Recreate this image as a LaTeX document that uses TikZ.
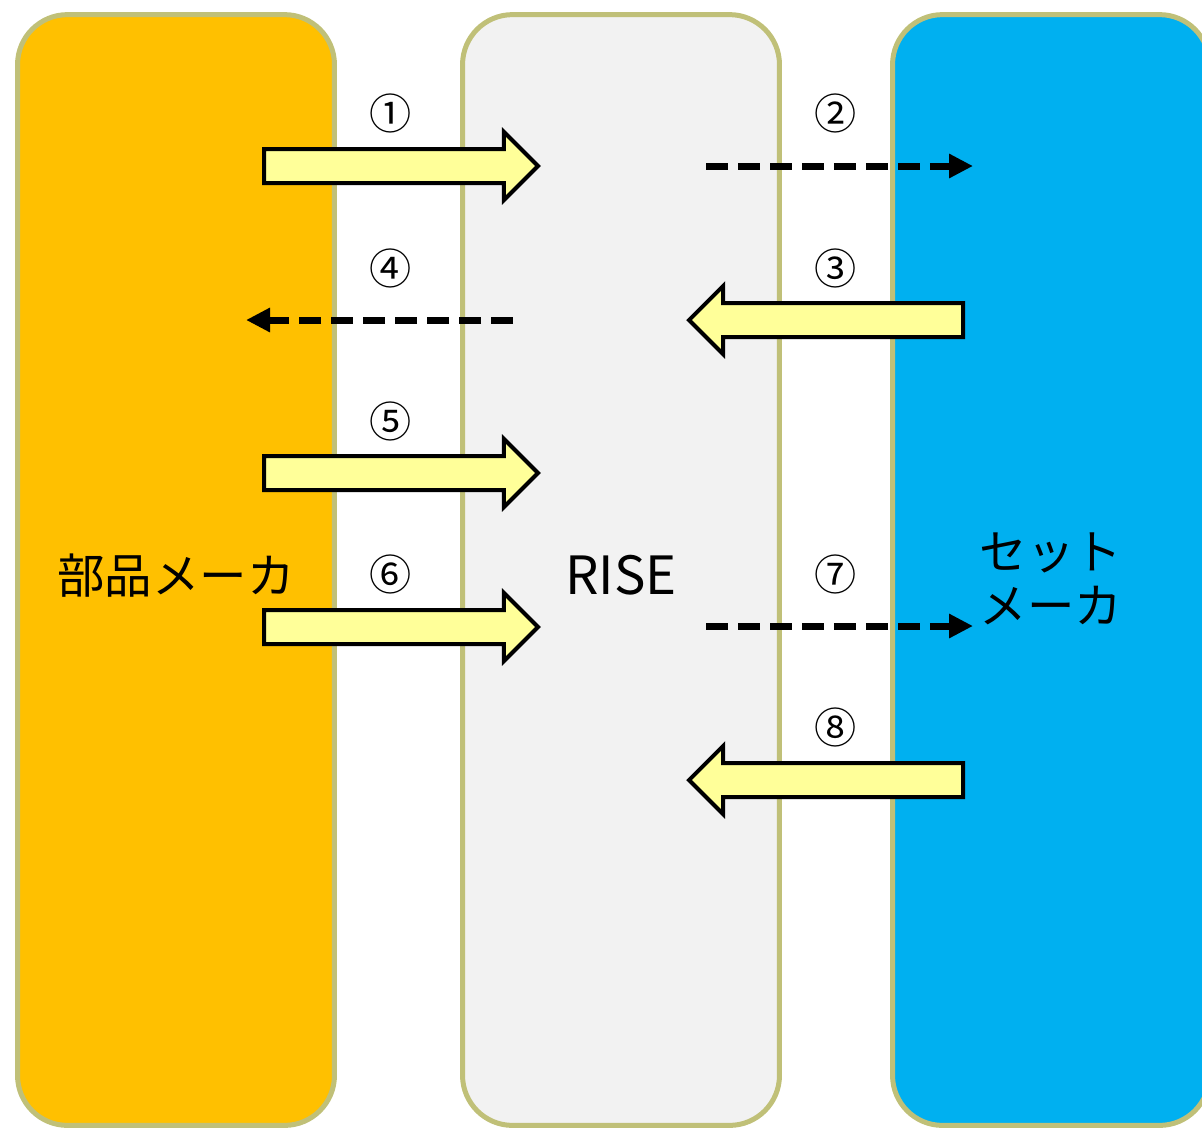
\documentclass[tikz,border=0pt]{standalone}
\usepackage{fontspec}
\setmainfont{Noto Sans CJK JP}
\usetikzlibrary{shapes.arrows,arrows.meta}
\definecolor{partsorange}{HTML}{FFC000}
\definecolor{risegray}{HTML}{F2F2F2}
\definecolor{setblue}{HTML}{00B0F0}
\definecolor{boxline}{HTML}{C0C078}
\definecolor{arrowyellow}{HTML}{FFFF99}
\begin{document}
\begin{tikzpicture}[x=0.02cm,y=-0.02cm,
  lane/.style={rectangle,draw=boxline,line width=0.1cm,rounded corners=1cm,
    minimum width=6.34cm,minimum height=22.22cm,font=\fontsize{27}{31}\selectfont,align=center},
  bigarrow/.style={single arrow,draw=black,fill=arrowyellow,line width=0.08cm,
    inner xsep=0pt,inner ysep=0.3cm,minimum height=5.48cm,
    single arrow head extend=0.34cm,single arrow tip angle=90,anchor=tail},
  dasharrow/.style={line width=0.14cm,dash pattern=on 0.44cm off 0.2cm,
    -{Triangle[length=0.48cm,width=0.46cm]}},
  num/.style={font=\fontsize{24}{28}\selectfont}]
  \useasboundingbox (0,0) rectangle (1202,1130);

  \node[lane,fill=partsorange,text height=30pt,text depth=3pt] (parts) at (176,570) {部品メーカ};
  \node[lane,fill=risegray,font=\fontsize{30}{34}\selectfont,text height=28.2pt,text depth=0pt] (rise) at (621,570) {RISE};
  \node[lane,fill=setblue] (setmaker) at (1051,570) {\rule{0pt}{30.8pt}セット\\メーカ};

  \node[bigarrow] (a1) at (262,166) {};
  \node[bigarrow,shape border rotate=180] (a3) at (965,320) {};
  \node[bigarrow] (a5) at (262,473) {};
  \node[bigarrow] (a6) at (262,627) {};
  \node[bigarrow,shape border rotate=180] (a8) at (965,780) {};

  \coordinate (d2a) at (706,166);
  \coordinate (d2b) at (973,166);
  \coordinate (d4a) at (513,320);
  \coordinate (d4b) at (246,320);
  \coordinate (d7a) at (706,626);
  \coordinate (d7b) at (973,626);
  \draw[dasharrow] (d2a) -- (d2b);
  \draw[dasharrow] (d4a) -- (d4b);
  \draw[dasharrow] (d7a) -- (d7b);

  \node[num] (n1) at (391,113) {①};
  \node[num] (n2) at (836,113) {②};
  \node[num] (n3) at (836,268) {③};
  \node[num] (n4) at (391,268) {④};
  \node[num] (n5) at (391,421) {⑤};
  \node[num] (n6) at (391,574) {⑥};
  \node[num] (n7) at (836,574) {⑦};
  \node[num] (n8) at (836,727) {⑧};
\end{tikzpicture}
\end{document}
